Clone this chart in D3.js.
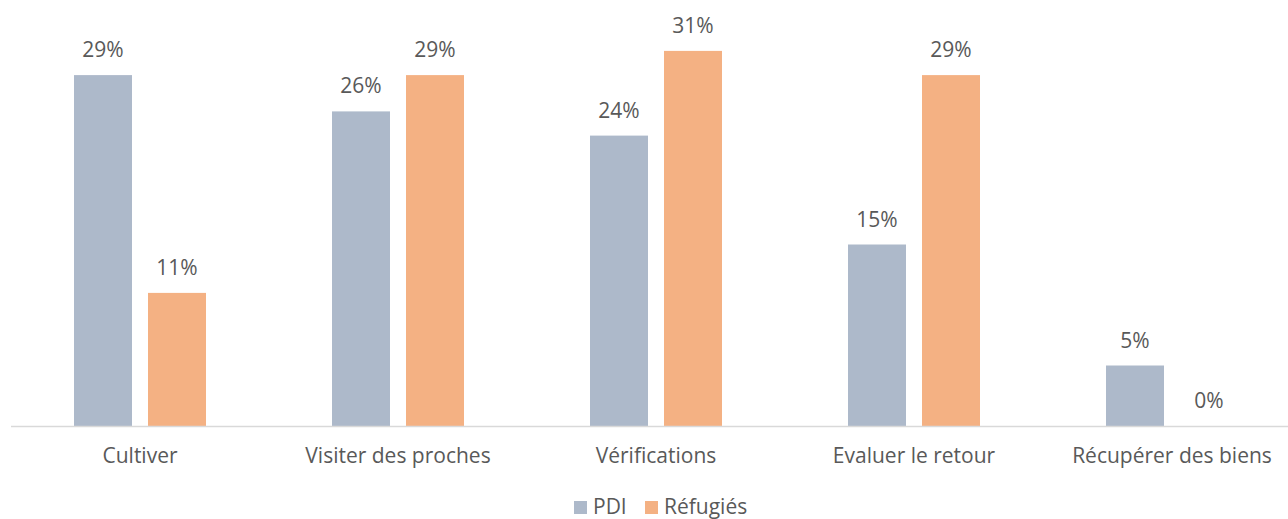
<!DOCTYPE html>
<html>
<head>
<meta charset="utf-8">
<script src="https://cdn.jsdelivr.net/npm/d3@7"></script>
<style>
  body { margin: 0; background: #fff; }
  text { font-family: "Open Sans", sans-serif; fill: #595959; }
</style>
</head>
<body>
<svg id="chart" width="1288" height="519"></svg>
<script>
var categories = ["Cultiver", "Visiter des proches", "Vérifications", "Evaluer le retour", "Récupérer des biens"];
var series = ["PDI", "Réfugiés"];
var pdiValues = [29, 26, 24, 15, 5];
var refugiesValues = [11, 29, 31, 29, 0];
var colors = ["#adb9ca", "#f4b183"];

var width = 1288,
    height = 519,
    baseline = 426,
    fontSize = 21;

var svg = d3.select("#chart");

var x0 = d3.scaleBand().domain(categories).range([11, 1301]).padding(0);

var x1 = d3.scaleBand()
    .domain(series)
    .range([x0.bandwidth() / 2 - 66, x0.bandwidth() / 2 + 66])
    .paddingInner(16 / 74);

var y = d3.scaleLinear().domain([0, 35]).range([baseline, baseline - 12.1 * 35]);

var rows = categories.map(function (c, i) {
    return { cat: c, values: [pdiValues[i], refugiesValues[i]] };
});

var groups = svg.selectAll("g.cat")
    .data(rows)
    .enter()
    .append("g")
    .attr("class", "cat")
    .attr("transform", function (d) {
        return "translate(" + x0(d.cat) + ",0)";
    });

groups.selectAll("rect")
    .data(function (d) {
        return d.values.map(function (v, j) { return { key: series[j], value: v, idx: j }; });
    })
    .enter()
    .append("rect")
    .attr("x", function (d) { return x1(d.key); })
    .attr("y", function (d) { return y(d.value); })
    .attr("width", x1.bandwidth())
    .attr("height", function (d) { return baseline - y(d.value); })
    .style("fill", function (d) { return colors[d.idx]; });

groups.selectAll("text.val")
    .data(function (d) {
        return d.values.map(function (v, j) { return { key: series[j], value: v }; });
    })
    .enter()
    .append("text")
    .attr("class", "val")
    .attr("x", function (d) { return x1(d.key) + x1.bandwidth() / 2; })
    .attr("y", function (d) { return y(d.value) - 18; })
    .attr("text-anchor", "middle")
    .style("font-size", fontSize + "px")
    .text(function (d) { return d.value + "%"; });

// axis line
svg.append("line")
    .attr("x1", 11)
    .attr("x2", width)
    .attr("y1", baseline + 0.5)
    .attr("y2", baseline + 0.5)
    .style("stroke", "#d9d9d9")
    .style("stroke-width", 1.5);

// category labels
svg.selectAll("text.cat")
    .data(categories)
    .enter()
    .append("text")
    .attr("class", "cat")
    .attr("x", function (d) { return x0(d) + x0.bandwidth() / 2; })
    .attr("y", 463)
    .attr("text-anchor", "middle")
    .style("font-size", fontSize + "px")
    .text(function (d) { return d; });

// legend
var legendX = [574, 645];
var legend = svg.selectAll("g.legend")
    .data(series)
    .enter()
    .append("g")
    .attr("class", "legend")
    .attr("transform", function (d, i) { return "translate(" + legendX[i] + ",501)"; });

legend.append("rect")
    .attr("width", 13)
    .attr("height", 13)
    .style("fill", function (d, i) { return colors[i]; });

legend.append("text")
    .attr("x", 19)
    .attr("y", 13)
    .style("font-size", fontSize + "px")
    .text(function (d) { return d; });
</script>
</body>
</html>
